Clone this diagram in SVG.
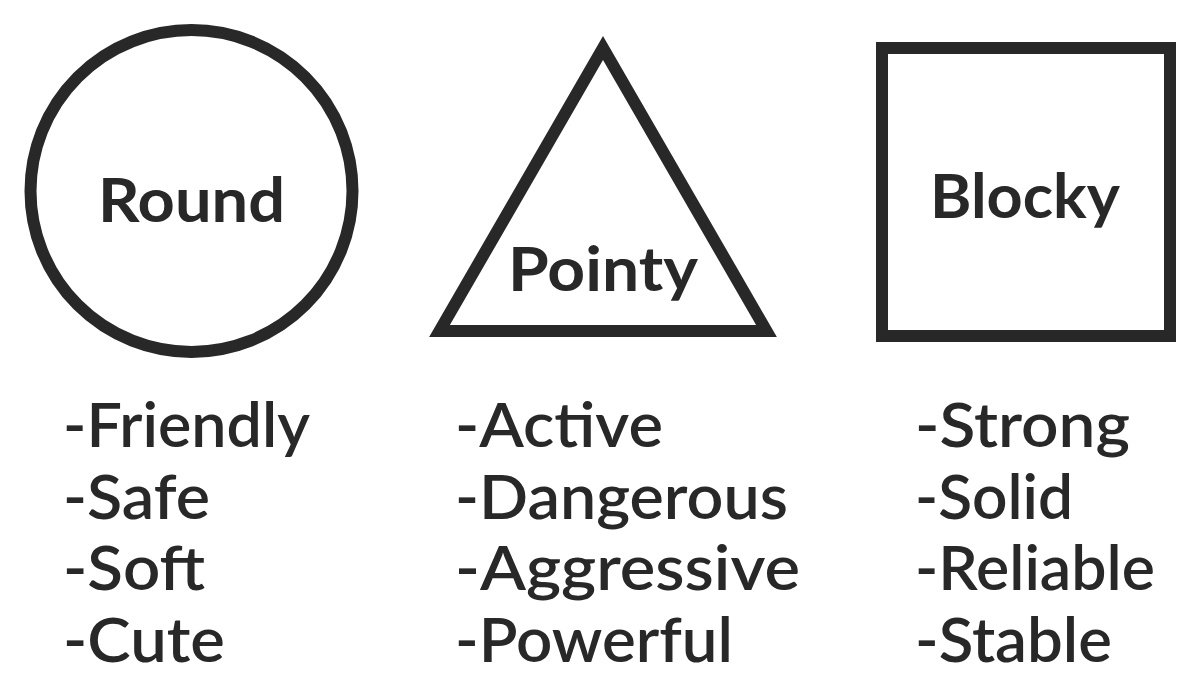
<svg xmlns="http://www.w3.org/2000/svg" width="1200" height="690" viewBox="0 0 1200 690">
<style>
.shape{fill:none;stroke:#282828;stroke-width:12;stroke-linejoin:miter}
.label{font-family:Lato,"Liberation Sans",sans-serif;font-weight:700;font-size:61px;fill:#282828}
.item{font-family:Lato,"Liberation Sans",sans-serif;font-weight:600;font-size:61px;fill:#282828}
</style>
<rect width="1200" height="690" fill="#ffffff"/>
<g id="round">
<circle class="shape" cx="191.5" cy="191" r="161"/>
<text class="label" x="98" y="222" textLength="187" lengthAdjust="spacingAndGlyphs">Round</text>
</g>
<g id="pointy">
<polygon class="shape" points="603,48 439.5,331 766.5,331"/>
<text class="label" x="508" y="291" textLength="190" lengthAdjust="spacingAndGlyphs">Pointy</text>
</g>
<g id="blocky">
<rect class="shape" x="882" y="48" width="288" height="288"/>
<text class="label" x="930" y="218" textLength="190" lengthAdjust="spacingAndGlyphs">Blocky</text>
</g>
<g id="round-list">
<text class="item" x="63" y="447" textLength="247" lengthAdjust="spacingAndGlyphs">-Friendly</text>
<text class="item" x="63" y="518.5" textLength="147" lengthAdjust="spacingAndGlyphs">-Safe</text>
<text class="item" x="63" y="590" textLength="142" lengthAdjust="spacingAndGlyphs">-Soft</text>
<text class="item" x="63" y="661.5" textLength="162" lengthAdjust="spacingAndGlyphs">-Cute</text>
</g>
<g id="pointy-list">
<text class="item" x="455" y="447" textLength="208" lengthAdjust="spacingAndGlyphs">-Active</text>
<text class="item" x="455" y="518.5" textLength="333" lengthAdjust="spacingAndGlyphs">-Dangerous</text>
<text class="item" x="455" y="590" textLength="345" lengthAdjust="spacingAndGlyphs">-Aggressive</text>
<text class="item" x="455" y="661.5" textLength="278" lengthAdjust="spacingAndGlyphs">-Powerful</text>
</g>
<g id="blocky-list">
<text class="item" x="915" y="447" textLength="215" lengthAdjust="spacingAndGlyphs">-Strong</text>
<text class="item" x="915" y="518.5" textLength="158" lengthAdjust="spacingAndGlyphs">-Solid</text>
<text class="item" x="915" y="590" textLength="240" lengthAdjust="spacingAndGlyphs">-Reliable</text>
<text class="item" x="915" y="661.5" textLength="197" lengthAdjust="spacingAndGlyphs">-Stable</text>
</g>
<g id="connectors"></g>
</svg>
